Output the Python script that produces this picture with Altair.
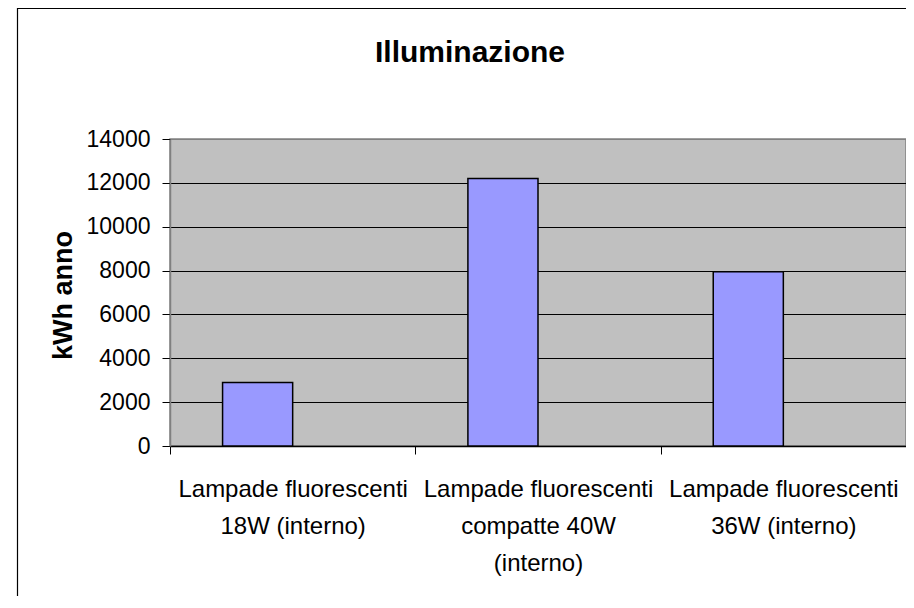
import altair as alt
import pandas as pd

# ---- data ----
categories = [
    "Lampade fluorescenti|18W (interno)",
    "Lampade fluorescenti|compatte 40W|(interno)",
    "Lampade fluorescenti|36W (interno)",
]
values = [2900, 12200, 7950]
series = ["Serie1", "Serie2"]
y_ticks = [0, 2000, 4000, 6000, 8000, 10000, 12000, 14000]
title_text = "Illuminazione"
y_title = "kWh anno"

FONT = "Liberation Sans"

df = pd.DataFrame({"categoria": categories, "kwh": values, "serie": [series[0]] * len(values)})

W, H = 736, 307

bars = alt.Chart(df).mark_bar(fill="#9999ff", stroke="#000000", strokeWidth=1.5).encode(
    x=alt.X(
        "categoria:N",
        sort=categories,
        scale=alt.Scale(paddingInner=0, paddingOuter=0),
        axis=alt.Axis(
            title=None,
            labelAngle=0,
            labelExpr="split(datum.label, '|')",
            labelFont=FONT,
            labelFontSize=24,
            labelColor="#000000",
            labelLineHeight=37,
            labelPadding=23,
            labelLimit=0,
            labelOverlap=False,
            tickBand="extent",
            tickSize=8,
            tickColor="#000000",
            tickWidth=1,
            domainColor="#000000",
            domainWidth=1.5,
            grid=False,
        ),
    ),
    xOffset=alt.XOffset(
        "serie:N",
        scale=alt.Scale(domain=series, paddingInner=0, paddingOuter=0.75),
    ),
    y=alt.Y(
        "kwh:Q",
        scale=alt.Scale(domain=[0, 14000], nice=False),
        axis=alt.Axis(
            values=y_ticks,
            format="d",
            title=y_title,
            titleFont=FONT,
            titleFontSize=27,
            titleFontWeight="bold",
            titleColor="#000000",
            titleAngle=270,
            titleAlign="center",
            titleBaseline="alphabetic",
            titleX=-99,
            titleY=156,
            labelFont=FONT,
            labelFontSize=23,
            labelColor="#000000",
            labelPadding=12,
            tickSize=8,
            tickColor="#000000",
            tickWidth=1,
            domainColor="#808080",
            domainWidth=1.5,
            grid=True,
            gridColor=alt.condition("datum.value == 14000", alt.value("#808080"), alt.value("#000000")),
            gridWidth=1.2,
        ),
    ),
)

border = alt.Chart(pd.DataFrame({"b": [0]})).mark_rect(
    fill=None, stroke="#000000", strokeWidth=1.2
).encode(
    x=alt.value(-152.5),
    x2=alt.value(W + 40),
    y=alt.value(-130.5),
    y2=alt.value(H + 250),
)

title = alt.Chart(pd.DataFrame({"t": [title_text]})).mark_text(
    font=FONT, fontSize=30, fontWeight="bold", color="#000000",
    align="center", baseline="alphabetic",
).encode(
    text="t:N",
    x=alt.value(300),
    y=alt.value(-77),
)

chart = alt.layer(border, bars, title).properties(
    width=W,
    height=H,
    autosize=alt.AutoSizeParams(type="none"),
    padding={"left": 162, "top": 131, "right": 0, "bottom": 150},
    background="#ffffff",
).configure_view(
    fill="#c0c0c0", stroke="#808080", strokeWidth=1.5
)

chart.save("out.html", embed_options={"renderer": "svg", "actions": False})
